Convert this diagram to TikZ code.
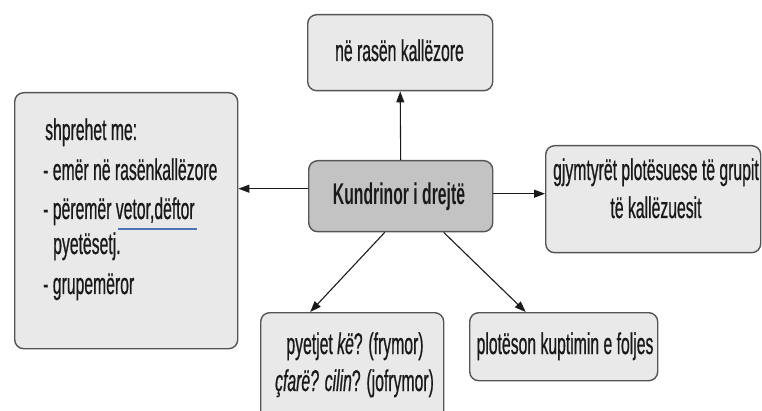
\documentclass[tikz,border=0pt]{standalone}
\usepackage{fontspec}
\setmainfont{Liberation Sans}[FakeStretch=0.525,
  UprightFeatures={FakeBold=0.6}, ItalicFeatures={FakeBold=0.6}]
\usetikzlibrary{arrows.meta}
\definecolor{boxfill}{HTML}{E9E9E9}
\definecolor{centerfill}{HTML}{C3C3C3}
\definecolor{boxline}{HTML}{555555}
\definecolor{inkc}{HTML}{1A1A1A}
\definecolor{spell}{HTML}{4F73B8}
\begin{document}
\begin{tikzpicture}[x=1pt,y=-1pt,
  box/.style={draw=boxline, line width=1.4pt, fill=boxfill, rounded corners=9pt,
    inner sep=0pt, anchor=north west},
  cbox/.style={box, fill=centerfill},
  txt/.style={text=inkc, font=\fontsize{30}{36}\selectfont, inner sep=0pt},
  arr/.style={draw=inkc, line width=1.1pt, -{Triangle[length=11pt,width=8pt]}}
]
\useasboundingbox (0,0) rectangle (762,411);
\clip (0,0) rectangle (762,411);
% boxes
\node[box, minimum width=185pt, minimum height=76pt] (top) at (307,14) {};
\node[box, minimum width=223pt, minimum height=256pt] (lb) at (14,92) {};
\node[cbox, minimum width=184pt, minimum height=71pt] (c) at (308,160) {};
\node[box, minimum width=215pt, minimum height=107pt] (rb) at (545,145) {};
\node[box, minimum width=183pt, minimum height=110pt] (bl) at (260,312) {};
\node[box, minimum width=188pt, minimum height=68pt] (br) at (469,312) {};
% texts
\node[txt, anchor=base] (ttop) at (399.5,61) {në rasën kallëzore};
\node[txt, anchor=base, font=\fontsize{30}{36}\selectfont\bfseries] (tc) at (399,205) {Kundrinor i drejtë};
\node[txt, anchor=base west] (l1) at (45,140) {shprehet me:};
\node[txt, anchor=base west] (l2) at (43,180) {- emër në rasënkallëzore};
\node[txt, anchor=base west] (l3) at (43,219) {- përemër vetor,dëftor};
\node[txt, anchor=base west] (l4) at (53,254) {pyetësetj.};
\node[txt, anchor=base west] (l5) at (43,294) {- grupemëror};
\node[txt, anchor=base] (r1) at (656,180) {gjymtyrët plotësuese të grupit};
\node[txt, anchor=base] (r2) at (656,218) {të kallëzuesit};
\node[txt, anchor=base] (b1) at (355,354) {pyetjet \textit{kë}? (frymor)};
\node[txt, anchor=base] (b2) at (354.5,391) {\textit{çfarë? cilin}? (jofrymor)};
\node[txt, anchor=base] (b3) at (565,354) {plotëson kuptimin e foljes};
% spell-check underline
\draw[spell, line width=1.6pt] (118,229) -- (197,229);
% connector end points
\coordinate (cw) at ([yshift=7.5pt]c.west);
\coordinate (ce) at ([yshift=2.5pt]c.east);
\coordinate (csl) at ([xshift=-16pt]c.south);
\coordinate (csr) at ([xshift=43pt]c.south);
\coordinate (bln) at ([xshift=-42pt]bl.north);
\coordinate (brn) at ([xshift=-38pt]br.north);
% connectors
\draw[arr] (c.north) -- (top.south);
\draw[arr] (cw) -- (lb.east |- cw);
\draw[arr] (ce) -- (rb.west |- ce);
\draw[arr] (csl) -- (bln);
\draw[arr] (csr) -- (brn);
\end{tikzpicture}
\end{document}
